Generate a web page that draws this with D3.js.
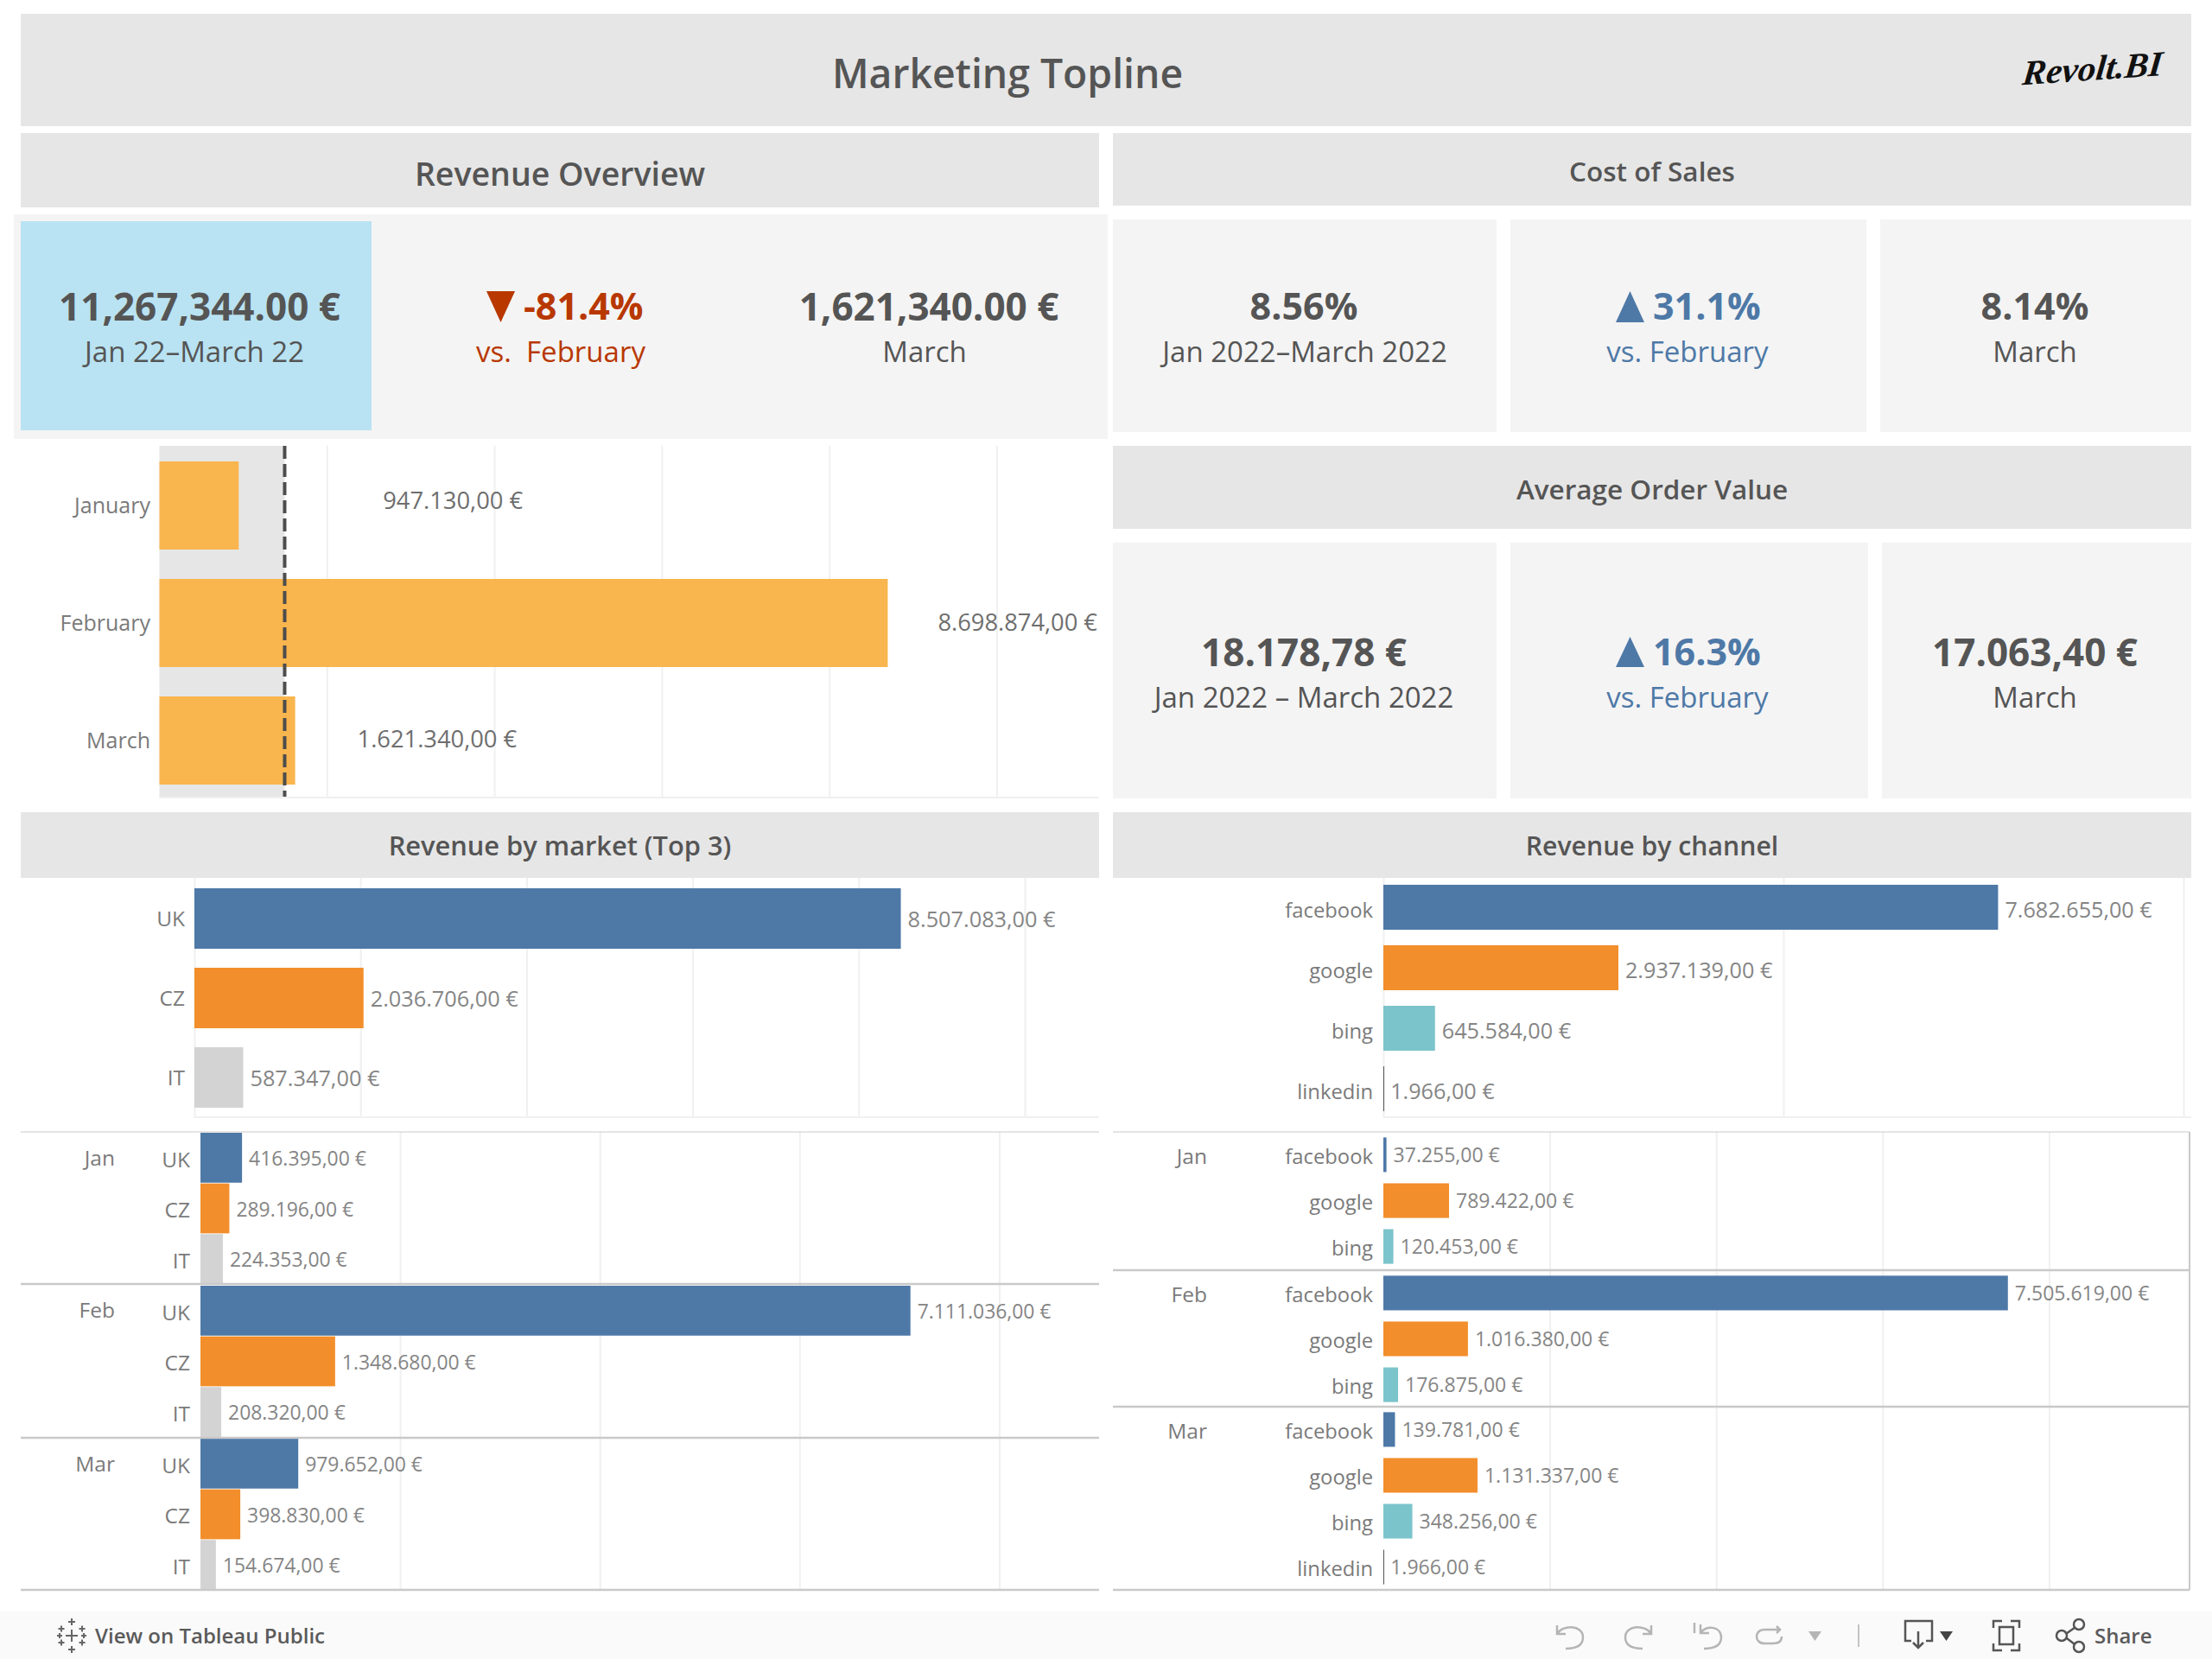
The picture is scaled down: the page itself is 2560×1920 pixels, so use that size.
<!DOCTYPE html>
<html><head><meta charset="utf-8">
<script src="https://cdn.jsdelivr.net/npm/d3@7/dist/d3.min.js"></script>
<style>html,body{margin:0;padding:0;background:#fff}svg{display:block}
.grid .domain{display:none}.grid line{stroke:#f0f0f0;stroke-width:2}
.cat .domain{display:none}.cat line{display:none}</style>
</head><body><svg id="c" width="2560" height="1920"></svg>
<script>
// ---- data ----
const months = ["January","February","March"];
const monthRevenue = [947130,8698874,1621340];
const monthRevenueLabels = ["947.130,00 €","8.698.874,00 €","1.621.340,00 €"];
const revenueReference = 1496000;

const markets = ["UK","CZ","IT"];
const marketTotals = [8507083,2036706,587347];
const marketJan = [416395,289196,224353];
const marketFeb = [7111036,1348680,208320];
const marketMar = [979652,398830,154674];

const channels = ["facebook","google","bing","linkedin"];
const channelTotals = [7682655,2937139,645584,1966];
const channelsJan = ["facebook","google","bing"];
const channelJan = [37255,789422,120453];
const channelsFeb = ["facebook","google","bing"];
const channelFeb = [7505619,1016380,176875];
const channelsMar = ["facebook","google","bing","linkedin"];
const channelMar = [139781,1131337,348256,1966];
const panelMonths = ["Jan","Feb","Mar"];

// ---- style ----
const FONT = "'Open Sans'";
const C = {band:"#e6e6e6",card:"#f4f4f4",sky:"#b9e3f2",text:"#555555",soft:"#7a7a7a",value:"#858585",
  blue:"#4e79a7",orange:"#f28e2b",gray:"#d3d3d3",teal:"#7cc4cb",amber:"#f9b54e",red:"#b83800",rule:"#c9c9c9"};
const marketColor = d3.scaleOrdinal(markets,[C.blue,C.orange,C.gray]);
const channelColor = d3.scaleOrdinal(channels,[C.blue,C.orange,C.teal,"#555555"]);
const eu = v => d3.format(",.2f")(v).replace(/,/g,"#").replace(".",",").replace(/#/g,".")+" €";

const svg = d3.select("#c");
function rect(x0,y0,x1,y1,fill){return svg.append("rect").attr("x",x0).attr("y",y0).attr("width",x1-x0).attr("height",y1-y0).attr("fill",fill);}
function txt(x,y,s,size,o={}){
  return svg.append("text").attr("x",x).attr("y",y).attr("dy",".36em").attr("text-anchor",o.a||"middle")
   .attr("font-family",o.f||FONT).attr("font-size",size).attr("font-weight",o.w||400)
   .attr("font-style",o.i||null).attr("fill",o.c||C.text).text(s);
}
function tri(x0,x1,y0,y1,up,fill){
  const p = up?[[x0,y1],[x1,y1],[(x0+x1)/2,y0]]:[[x0,y0],[x1,y0],[(x0+x1)/2,y1]];
  svg.append("path").attr("d",d3.line()(p)+"Z").attr("fill",fill);
}

// ---- bands and cards ----
rect(24,16,2536,146,C.band);
rect(24,154,1272,240,C.band);
rect(1288,154,2536,238,C.band);
rect(16,248,1282,508,C.card);
rect(24,256,430,498,C.sky);
[[1288,1732],[1748,2160],[2176,2536]].forEach(d=>rect(d[0],254,d[1],500,C.card));
rect(1288,516,2536,612,C.band);
[[1288,1732],[1748,2162],[2178,2536]].forEach(d=>rect(d[0],628,d[1],924,C.card));
rect(24,940,1272,1016,C.band);
rect(1288,940,2536,1016,C.band);

txt(1166,85,"Marketing Topline",46.3,{w:600});
txt(648,201,"Revenue Overview",37.5,{w:600});
txt(1912,199,"Cost of Sales",31.5,{w:600});
txt(1912,567,"Average Order Value",31.5,{w:600});
txt(648,979,"Revenue by market (Top 3)",30.8,{w:600});
txt(1912,979,"Revenue by channel",30.2,{w:600});
svg.append("g").attr("transform","translate(2422,78) skewX(-10) rotate(-4)")
  .append("text").attr("text-anchor","middle").attr("dy",".36em").attr("font-family","'Liberation Serif'")
  .attr("font-size",41).attr("font-style","italic").attr("font-weight",700).attr("fill","#111").text("Revolt.BI");

// ---- KPI text ----
const big=44, pct=43, sub=33;
txt(231,355,"11,267,344.00 €",big,{w:700});
txt(225,407,"Jan 22–March 22",sub);
tri(563,596,337,373,false,C.red);
txt(606,355,"-81.4%",pct,{w:700,c:C.red,a:"start"});
txt(649,407,"vs.  February",sub,{c:C.red}).attr("xml:space","preserve");
txt(1075,355,"1,621,340.00 €",big,{w:700});
txt(1070,407,"March",sub);
txt(1509,355,"8.56%",pct,{w:700});
txt(1510,407,"Jan 2022–March 2022",sub);
tri(1870,1903,337,373,true,C.blue);
txt(1913,355,"31.1%",pct,{w:700,c:C.blue,a:"start"});
txt(1953,407,"vs. February",sub,{c:C.blue});
txt(2355,355,"8.14%",pct,{w:700});
txt(2355,407,"March",sub);
txt(1509,755,"18.178,78 €",big,{w:700});
txt(1509,807,"Jan 2022 – March 2022",sub);
tri(1870,1903,737,772,true,C.blue);
txt(1913,755,"16.3%",pct,{w:700,c:C.blue,a:"start"});
txt(1953,807,"vs. February",sub,{c:C.blue});
txt(2355,755,"17.063,40 €",big,{w:700});
txt(2355,807,"March",sub);

// ---- generic bar panel ----
function panel(o){
  const g = svg.append("g");
  g.append("g").attr("class","grid").attr("transform",`translate(0,${o.top})`)
    .call(d3.axisBottom(o.x).tickValues(o.ticks).tickSize(o.bottom-o.top).tickFormat(""));
  const y = d3.scaleBand().domain(o.cats).range(o.yr).paddingInner(o.pi).paddingOuter(o.po);
  o.under && o.under(g,y);
  g.selectAll(null).data(o.cats).join("rect")
    .attr("x",o.x(0)).attr("y",d=>y(d)).attr("height",y.bandwidth())
    .attr("width",(d,i)=>Math.max(1,o.x(o.vals[i])-o.x(0)))
    .attr("fill",o.color);
  o.over && o.over(g,y);
  const ax = g.append("g").attr("class","cat").attr("transform",`translate(${o.catX},0)`)
    .call(d3.axisLeft(y).tickSize(0).tickPadding(0));
  ax.selectAll("text").attr("font-family",FONT).attr("font-size",o.catSize).attr("fill",o.catColor||C.soft)
    .attr("transform",`translate(0,${o.catDy||0})`);
  const vd = i => Array.isArray(o.valDy)?o.valDy[i]:(o.valDy||0);
  g.selectAll(null).data(o.cats).join("text")
    .attr("x",(d,i)=>o.x(o.vals[i])+(o.off?o.off[i]:8))
    .attr("y",(d,i)=>y(d)+y.bandwidth()/2+vd(i)).attr("dy",".36em")
    .attr("font-family",FONT).attr("font-size",o.valSize).attr("fill",o.valColor||C.value)
    .text((d,i)=>o.labels?o.labels[i]:eu(o.vals[i]));
}

// Overview
const xOver = d3.scaleLinear().domain([0,2e6]).range([184.5,378.3]);
panel({x:xOver,ticks:d3.range(2e6,11e6,2e6),top:516,bottom:924,cats:months,vals:monthRevenue,labels:monthRevenueLabels,
  yr:[517,925],pi:.25,po:.125,color:C.amber,catX:174,catSize:25,catDy:0.5,valSize:27.3,valColor:"#6e6e6e",off:[167,58,72],valDy:[-6,-1,-2],
  under:g=>g.append("rect").attr("x",xOver(0)).attr("y",516).attr("height",408).attr("width",xOver(revenueReference)-xOver(0)).attr("fill",C.band),
  over:g=>g.append("line").attr("x1",xOver(revenueReference)).attr("x2",xOver(revenueReference)).attr("y1",516).attr("y2",924)
     .attr("stroke","#4d4d4d").attr("stroke-width",4).attr("stroke-dasharray","15 6")});
rect(185,922,1272,924,"#f0f0f0");

// Market total
const xMk = d3.scaleLinear().domain([0,2e6]).range([225,417.2]);
panel({x:xMk,ticks:d3.range(0,11e6,2e6),top:1016,bottom:1294,cats:markets,vals:marketTotals,yr:[1017,1293],pi:.239,po:.12,
  color:d=>marketColor(d),catX:214,catSize:24.5,catDy:1,valSize:25.3,valDy:1});
rect(225,1292,1272,1294,"#f0f0f0");

// Market by month
const xMm = d3.scaleLinear().domain([0,2e6]).range([232,463.1]);
const mkSets=[marketJan,marketFeb,marketMar];
const mkTops=[1311,1488,1665];
const mkMonthY=[1340,1516,1694];
mkSets.forEach((vals,i)=>{
  panel({x:xMm,ticks:d3.range(2e6,9e6,2e6),top:i?mkTops[i]-2:1310,bottom:[1486,1664,1840][i],cats:markets,vals,
    yr:[mkTops[i],mkTops[i]+175],pi:.015,po:0,color:d=>marketColor(d),catX:220,catSize:24.5,catDy:3,valSize:22.9,valDy:1});
  txt(133,mkMonthY[i],panelMonths[i],24.5,{a:"end",c:C.soft});
});
[[1310,1],[1486,2.5],[1664,2.5],[1840,2.5]].forEach(d=>rect(24,d[0]-d[1]/2,1272,d[0]+d[1]/2,C.rule));

// Channel total
const xCh = d3.scaleLinear().domain([0,5e6]).range([1601,2064]);
panel({x:xCh,ticks:[0,5e6,1e7],top:1016,bottom:1294,cats:channels,vals:channelTotals,yr:[1015,1295],pi:.257,po:.128,
  color:d=>channelColor(d),catX:1589,catSize:23.8,catDy:4,valSize:25.2,valDy:2.5});
rect(1601,1292,2536,1294,"#f0f0f0");

// Channel by month
const xCm = d3.scaleLinear().domain([0,2e6]).range([1601,1793.6]);
const chSets=[[channelsJan,channelJan],[channelsFeb,channelFeb],[channelsMar,channelMar]];
const chTops=[1310,1470,1628];
const chBottoms=[1470,1628,1840];
const chMonthY=[1338,1498,1656];
chSets.forEach((s,i)=>{
  panel({x:xCm,ticks:d3.range(2e6,9e6,2e6),top:chTops[i],bottom:chBottoms[i],cats:s[0],vals:s[1],
    yr:[chTops[i],chTops[i]+s[0].length*53],pi:.245,po:.12,color:d=>channelColor(d),catX:1589,catSize:23.8,catDy:3,valSize:23,valDy:0.5});
  txt(1397,chMonthY[i],panelMonths[i],24.5,{a:"end",c:C.soft});
});
[[1310,1],[1470,2.5],[1628,2.5],[1840,2.5]].forEach(d=>rect(1288,d[0]-d[1]/2,2534,d[0]+d[1]/2,C.rule));
rect(2533,1310,2535,1840,C.rule);

// ---- toolbar ----
rect(0,1865,2560,1920,"#fafafa");
txt(110,1893,"View on Tableau Public",24,{a:"start",w:600,c:"#5a5a5a"});
const ic = svg.append("g").attr("fill","none").attr("stroke","#666").attr("stroke-width",2);
const cross=(x,y,r)=>ic.append("path").attr("d",`M${x-r},${y}H${x+r}M${x},${y-r}V${y+r}`);
[[83,1893,7],[83,1877,4],[83,1909,4],[71,1885,3.5],[95,1885,3.5],[71,1901,3.5],[95,1901,3.5],[69,1893,3],[97,1893,3]].forEach(d=>cross(...d));
const tb = svg.append("g").attr("fill","none").attr("stroke","#b5b5b5").attr("stroke-width",2.5);
tb.append("path").attr("d","M1802,1881V1891H1812M1802,1891C1808,1880 1832,1880 1832,1895C1832,1906 1822,1908 1812,1908");
tb.append("path").attr("d","M1911,1881V1891H1901M1911,1891C1905,1880 1881,1880 1881,1895C1881,1906 1891,1908 1901,1908");
tb.append("path").attr("d","M1961,1878V1890M1968,1880V1890H1978M1968,1890C1974,1880 1992,1882 1992,1895C1992,1906 1982,1908 1972,1908");
tb.append("path").attr("d","M2056,1882L2060,1886L2056,1890M2060,1886H2042C2030,1886 2030,1902 2042,1902H2052C2060,1902 2062,1898 2062,1894");
tri(2093,2108,1888,1899,false,"#b5b5b5");
rect(2150,1880,2152,1906,"#c4c4c4");
const tk = svg.append("g").attr("fill","none").attr("stroke","#555").attr("stroke-width",2.5);
tk.append("path").attr("d","M2212,1899H2205V1876H2236V1899H2229M2220,1888V1906M2214,1901L2220,1907L2226,1901");
tri(2245,2260,1888,1899,false,"#444");
tk.append("path").attr("d","M2307,1884V1876H2317M2327,1876H2337V1884M2337,1902V1910H2327M2317,1910H2307V1902");
tk.append("rect").attr("x",2314).attr("y",1883).attr("width",16).attr("height",20);
tk.append("path").attr("d","M2388,1893L2405,1881M2388,1893L2405,1906");
[[2386,1893],[2406,1880],[2406,1906]].forEach(d=>tk.append("circle").attr("cx",d[0]).attr("cy",d[1]).attr("r",6).attr("fill","#fafafa"));
txt(2424,1893,"Share",24,{a:"start",w:600,c:"#5a5a5a"});
</script></body></html>
